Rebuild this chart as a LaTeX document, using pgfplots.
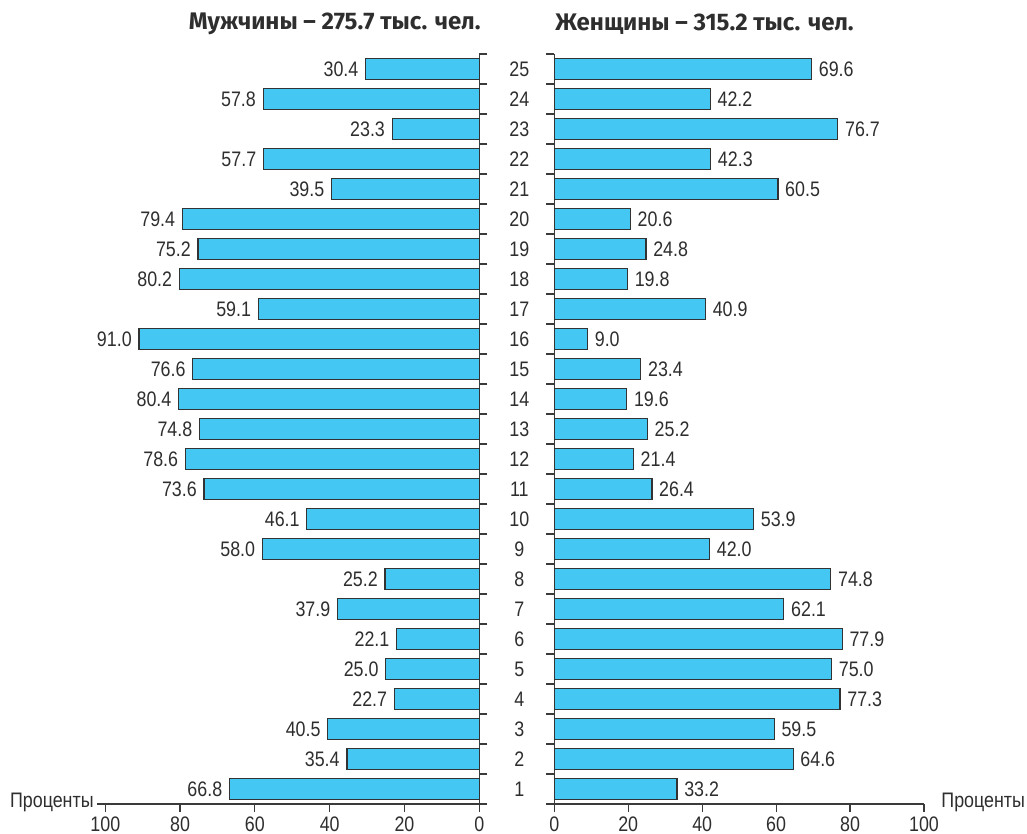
\documentclass[border=0pt]{standalone}
\usepackage{fontspec}
\setmainfont{Liberation Sans}[FakeStretch=0.85]
\newfontfamily\titlefont{Fira Sans}
\usepackage{pgfplots}
\pgfplotsset{compat=1.18}
\definecolor{barblue}{HTML}{45C7F4}
\definecolor{txt}{HTML}{2E2E2E}
\definecolor{axc}{HTML}{3A3A3A}

\pgfplotsset{common/.style={
  scale only axis, height=375pt,
  xmin=0, xmax=100, ymin=0.5, ymax=25.5,
  xbar, bar width=10.5pt, bar shift=0pt,
  xtick={0,20,...,100}, ytick={1,...,25},
  minor ytick={0.5,1.5,...,25.5},
  tick align=outside, major tick length=4pt, minor tick length=4pt,
  major y tick style={draw=none},
  axis line style={axc, line width=0.6pt},
  tick style={axc, line width=0.6pt},
  /pgf/number format/assume math mode=true,
  ticklabel style={font=\fontsize{10.5}{12}\selectfont, text=txt},
  xticklabel style={yshift=1pt},
  nodes near coords,
  nodes near coords style={font=\fontsize{10.5}{12}\selectfont, text=txt,
    /pgf/number format/fixed, /pgf/number format/fixed zerofill, /pgf/number format/precision=1, /pgf/number format/assume math mode=true},
  clip=false,
}}

\begin{document}
\begin{tikzpicture}
\path[use as bounding box] (0,0) rectangle (513.5pt,417pt);

\begin{axis}[common,
  at={(52.65pt,15pt)}, anchor=south west, width=187pt,
  x dir=reverse,
  axis x line*=bottom, axis y line*=right,
  x axis line style={shorten >=-4pt},
  yticklabel style={anchor=center, xshift=16pt},
  nodes near coords style={anchor=east},
]
\addplot[fill=barblue, draw=black!80, line width=0.6pt] coordinates {
(66.8,1) (35.4,2) (40.5,3) (22.7,4) (25.0,5) (22.1,6) (37.9,7) (25.2,8)
(58.0,9) (46.1,10) (73.6,11) (78.6,12) (74.8,13) (80.4,14) (76.6,15)
(91.0,16) (59.1,17) (80.2,18) (75.2,19) (79.4,20) (39.5,21) (57.7,22)
(23.3,23) (57.8,24) (30.4,25)};
\end{axis}

\begin{axis}[common,
  at={(277.15pt,15pt)}, anchor=south west, width=184.85pt,
  axis x line*=bottom, axis y line*=left,
  x axis line style={shorten <=-3pt},
  yticklabels={},
  nodes near coords style={anchor=west},
]
\addplot[fill=barblue, draw=black!80, line width=0.6pt] coordinates {
(33.2,1) (64.6,2) (59.5,3) (77.3,4) (75.0,5) (77.9,6) (62.1,7) (74.8,8)
(42.0,9) (53.9,10) (26.4,11) (21.4,12) (25.2,13) (19.6,14) (23.4,15)
(9.0,16) (40.9,17) (19.8,18) (24.8,19) (20.6,20) (60.5,21) (42.3,22)
(76.7,23) (42.2,24) (69.6,25)};
\end{axis}

\node[anchor=east, text=txt, font=\fontsize{12}{14}\selectfont\titlefont\bfseries, inner sep=0pt] at (240.5pt,405pt) {Мужчины – 275.7 тыс. чел.};
\node[anchor=west, text=txt, font=\fontsize{12}{14}\selectfont\titlefont\bfseries, inner sep=0pt] at (277.5pt,405pt) {Женщины – 315.2 тыс. чел.};
\node[anchor=east, text=txt, font=\fontsize{10.5}{12}\selectfont, inner sep=0pt] at (47pt,16pt) {Проценты};
\node[anchor=west, text=txt, font=\fontsize{10.5}{12}\selectfont, inner sep=0pt] at (470.5pt,16pt) {Проценты};
\end{tikzpicture}
\end{document}
